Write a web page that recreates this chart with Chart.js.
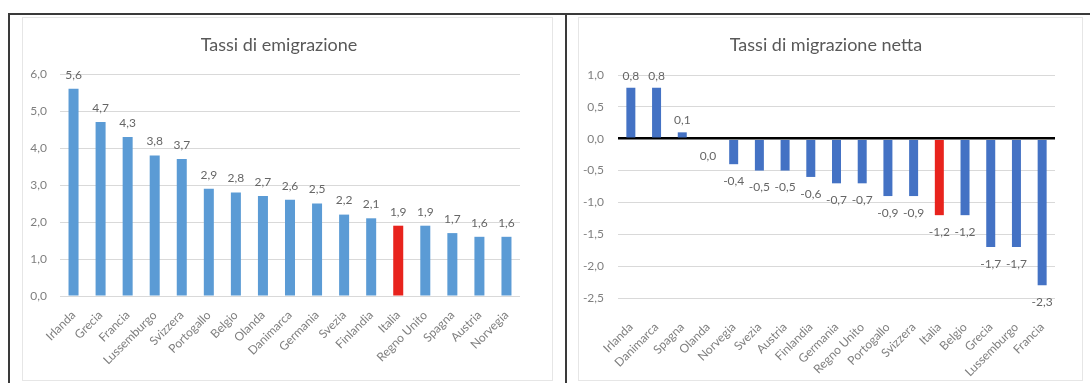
<!DOCTYPE html>
<html>
<head>
<meta charset="utf-8">
<title>Tassi di emigrazione e di migrazione netta</title>
<script src="https://cdn.jsdelivr.net/npm/chart.js@4.4.1/dist/chart.umd.min.js"></script>
<style>
  html, body { margin: 0; padding: 0; background: #fff; }
  body { width: 1090px; height: 383px; position: relative; overflow: hidden; font-family: Lato, sans-serif; }
  .frame-top { position: absolute; left: 8px; top: 13px; width: 1082px; height: 2px; background: #3a3a3a; }
  .frame-v { position: absolute; top: 13px; width: 2px; height: 370px; background: #3a3a3a; }
  .panel { position: absolute; top: 17px; height: 362px; border: 1px solid #e6e6e6; }
  canvas { display: block; }
</style>
</head>
<body>
<div class="frame-top"></div>
<div class="frame-v" style="left:8px"></div>
<div class="frame-v" style="left:565px"></div>
<div class="panel" style="left:22px;width:529px"><canvas id="emig" width="529" height="362"></canvas></div>
<div class="panel" style="left:578px;width:503px"><canvas id="netta" width="503" height="362"></canvas></div>

<script>
// Tassi di emigrazione (per paese)
const paesiEmig = ['Irlanda', 'Grecia', 'Francia', 'Lussemburgo', 'Svizzera', 'Portogallo', 'Belgio', 'Olanda',
  'Danimarca', 'Germania', 'Svezia', 'Finlandia', 'Italia', 'Regno Unito', 'Spagna', 'Austria', 'Norvegia'];
const tassiEmig = [5.6, 4.7, 4.3, 3.8, 3.7, 2.9, 2.8, 2.7, 2.6, 2.5, 2.2, 2.1, 1.9, 1.9, 1.7, 1.6, 1.6];

// Tassi di migrazione netta (per paese)
const paesiNetta = ['Irlanda', 'Danimarca', 'Spagna', 'Olanda', 'Norvegia', 'Svezia', 'Austria', 'Finlandia',
  'Germania', 'Regno Unito', 'Portogallo', 'Svizzera', 'Italia', 'Belgio', 'Grecia', 'Lussemburgo', 'Francia'];
const tassiNetta = [0.8, 0.8, 0.1, 0.0, -0.4, -0.5, -0.5, -0.6, -0.7, -0.7, -0.9, -0.9, -1.2, -1.2, -1.7, -1.7, -2.3];

// Valori delle tacche degli assi verticali
const taccheEmig = [0, 1, 2, 3, 4, 5, 6];
const taccheNetta = [1.0, 0.5, 0.0, -0.5, -1.0, -1.5, -2.0, -2.5];

const titoli = ['Tassi di emigrazione', 'Tassi di migrazione netta'];
const evidenziato = 'Italia';

const FONT = 'Lato, "Open Sans", sans-serif';
const GRIGIO_TACCHE = '#7f7f7f';
const GRIGIO_ETICHETTE = '#666666';
const ROSSO = '#e8231d';

const fmt = v => Number(v).toFixed(1).replace('.', ',');

// Titolo del grafico in posizione fissa
const titoloPlugin = {
  id: 'titolo',
  afterDraw(chart, args, opts) {
    const ctx = chart.ctx;
    ctx.save();
    ctx.font = '18px ' + FONT;
    ctx.fillStyle = '#595959';
    ctx.textAlign = 'center';
    ctx.textBaseline = 'middle';
    ctx.fillText(opts.testo, opts.x, opts.y);
    ctx.restore();
  }
};

// Etichette dei valori sopra/sotto ogni barra
const etichettePlugin = {
  id: 'etichette',
  afterDatasetsDraw(chart, args, opts) {
    const ctx = chart.ctx;
    const meta = chart.getDatasetMeta(0);
    const dati = chart.data.datasets[0].data;
    ctx.save();
    ctx.font = '12px ' + FONT;
    ctx.fillStyle = GRIGIO_ETICHETTE;
    ctx.textAlign = 'center';
    ctx.textBaseline = 'middle';
    meta.data.forEach((barra, i) => {
      const v = dati[i];
      const y = v > 0 ? barra.y - opts.sopra : barra.y + opts.sotto;
      ctx.fillText(fmt(v), barra.x, y);
    });
    ctx.restore();
  }
};

function coloriBarre(paesi, base) {
  return paesi.map(p => p === evidenziato ? ROSSO : base);
}

function creaGrafico(id, paesi, valori, tacche, cfg) {
  const minimo = Math.min(...tacche);
  const massimo = Math.max(...tacche);
  return new Chart(document.getElementById(id), {
    type: 'bar',
    data: {
      labels: paesi,
      datasets: [{
        data: valori,
        backgroundColor: coloriBarre(paesi, cfg.colore),
        borderWidth: 0,
        categoryPercentage: 1,
        barPercentage: cfg.barra
      }]
    },
    plugins: [titoloPlugin, etichettePlugin],
    options: {
      responsive: false,
      animation: false,
      layout: { padding: { top: cfg.top, right: cfg.right, left: 0, bottom: 0 } },
      plugins: {
        legend: { display: false },
        tooltip: { enabled: false },
        titolo: { testo: cfg.titolo, x: cfg.titoloX, y: 27 },
        etichette: { sopra: cfg.sopra, sotto: cfg.sotto }
      },
      scales: {
        x: {
          grid: { display: false },
          border: { display: false },
          ticks: {
            color: GRIGIO_TACCHE,
            font: { family: FONT, size: 12 },
            minRotation: 45,
            maxRotation: 45,
            autoSkip: false,
            padding: cfg.padX
          },
          afterFit(s) { s.height = cfg.altezzaX; }
        },
        y: {
          min: minimo,
          max: massimo,
          afterBuildTicks(s) { s.ticks = tacche.slice().sort((a, b) => a - b).map(v => ({ value: v })); },
          ticks: {
            color: GRIGIO_TACCHE,
            font: { family: FONT, size: 12 },
            padding: cfg.padY,
            callback: v => fmt(v)
          },
          grid: {
            drawTicks: false,
            color: c => (cfg.zeroNero && c.tick && c.tick.value === 0) ? '#000000' : '#d9d9d9',
            lineWidth: c => (cfg.zeroNero && c.tick && c.tick.value === 0) ? 2.5 : 1
          },
          border: { display: false },
          afterFit(s) { s.width = cfg.larghezzaY; }
        }
      }
    }
  });
}

creaGrafico('emig', paesiEmig, tassiEmig, taccheEmig, {
  titolo: titoli[0], titoloX: 256, colore: '#5b9bd5', barra: 0.37,
  top: 56, right: 32, larghezzaY: 37, altezzaX: 84, padX: 4, padY: 13,
  sopra: 14, sotto: 14, zeroNero: false
});

creaGrafico('netta', paesiNetta, tassiNetta, taccheNetta, {
  titolo: titoli[1], titoloX: 247, colore: '#4472c4', barra: 0.35,
  top: 57, right: 27, larghezzaY: 39, altezzaX: 82, padX: 14, padY: 14,
  sopra: 12, sotto: 17, zeroNero: true
});
</script>
</body>
</html>
